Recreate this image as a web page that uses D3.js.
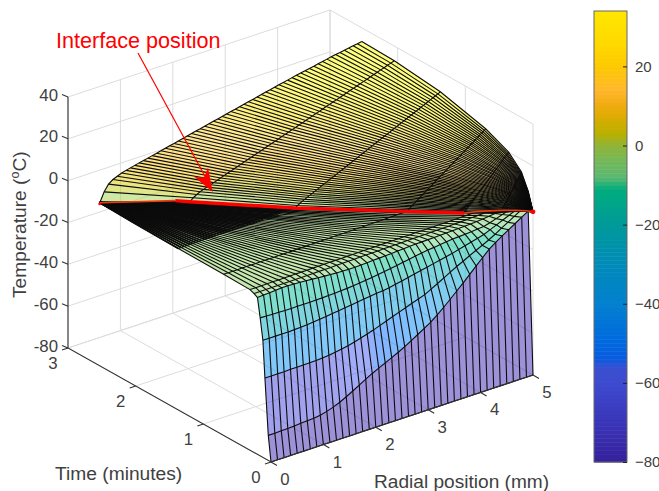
<!DOCTYPE html>
<html>
<head>
<meta charset="utf-8">
<style>
  html, body { margin: 0; background: #fff; }
  text { font-family: "Liberation Sans", Arial, sans-serif; fill: #404040; }
</style>
</head>
<body>
<svg id="chart" width="659" height="491"></svg>
<script src="https://cdn.jsdelivr.net/npm/d3@7"></script>
<script>
var rTicks = [0, 1, 2, 3, 4, 5];
var timeTicks = [0, 1, 2, 3];
var tempTicks = [-80, -60, -40, -20, 0, 20, 40];
var barTicks = [-80, -60, -40, -20, 0, 20];

// melting front
var frontTime = [2.53, 2.15, 2.05, 1.37, 0.7, 0.36, 0.31, 0.2, 0.16, 0.12, 0.09, 0.04, 0];
var frontR = [0, 0.95, 1.1, 2.23, 3.5, 4.15, 4.35, 4.65, 4.74, 4.82, 4.88, 4.96, 5];
var frontTemp = -2;

// liquid part: one row per time level, from the front out to r = 5
var warmTime = [2.53, 2.05, 1.37, 0.7, 0.36, 0.17, 0.07];
var warmFront = [0, 1.1, 2.23, 3.5, 4.15, 4.6, 4.88];
var warmTemps = [
  [-2,2.5,5.5,7,7.9,8.7,9.3,9.8,10.3,10.8,11.2,11.7,12.2,12.6,13.1,13.6,14.1,14.5,15,15.5,16,16.5,17,17.4,17.9,18.4,18.9,19.3,19.8,20.3,20.8,21.2,21.7,22.2,22.7,23.1,23.6,24.1,24.6,25,25.5,26,26.4,26.8,27.3,27.7,28.1,28.5,28.9,29.3,29.8,30.2,30.6,31,31.4,31.7,32.1,32.4,32.8,33.1,33.5],
  [-2,-0.6,0.4,1.2,1.8,2.3,2.9,3.4,4,4.5,5.1,5.7,6.2,6.8,7.3,7.9,8.5,9,9.6,10.1,10.7,11.2,11.8,12.4,12.9,13.5,14,14.6,15.2,15.7,16.3,16.8,17.4,17.9,18.5,19.1,19.6,20.2,20.7,21.3,21.9,22.4,23,23.5,24.1,24.6,25.2,25.8,26.3,26.9,27.4,28,28.5,29.1,29.7,30.2,30.8,31.3,31.9,32.4,33],
  [-2,-1.2,-0.5,0.1,0.6,1.2,1.7,2.2,2.8,3.3,3.8,4.4,4.9,5.4,6,6.5,7,7.5,8.1,8.6,9.1,9.7,10.2,10.7,11.3,11.8,12.3,12.9,13.4,13.9,14.5,15,15.5,16.1,16.6,17.1,17.7,18.2,18.7,19.2,19.8,20.3,20.8,21.4,21.9,22.4,23,23.5,24,24.6,25.1,25.6,26.2,26.7,27.2,27.8,28.3,28.8,29.4,29.9,30.5],
  [-2,-1.5,-1,-0.5,-0.1,0.4,0.8,1.3,1.7,2.2,2.6,3.1,3.5,4,4.4,4.9,5.3,5.7,6.2,6.6,7.1,7.5,8,8.4,8.9,9.3,9.8,10.2,10.6,11.1,11.5,12,12.4,12.9,13.3,13.8,14.2,14.7,15.1,15.5,16,16.4,16.9,17.3,17.8,18.2,18.7,19.1,19.6,20,20.4,20.9,21.3,21.8,22.2,22.7,23.1,23.6,24,24.5,25],
  [-2,-1.6,-1.2,-0.8,-0.4,-0.1,0.3,0.7,1,1.4,1.8,2.1,2.5,2.9,3.2,3.6,4,4.3,4.7,5,5.4,5.8,6.1,6.5,6.9,7.2,7.6,8,8.3,8.7,9,9.4,9.8,10.1,10.5,10.9,11.2,11.6,12,12.3,12.7,13,13.4,13.8,14.1,14.5,14.9,15.2,15.6,16,16.3,16.7,17,17.4,17.8,18.1,18.5,18.9,19.2,19.6,20],
  [-2,-1.7,-1.5,-1.2,-0.9,-0.7,-0.4,-0.1,0.1,0.4,0.7,0.9,1.2,1.5,1.7,2,2.3,2.5,2.8,3.1,3.3,3.6,3.9,4.1,4.4,4.7,4.9,5.2,5.5,5.7,6,6.3,6.5,6.8,7.1,7.3,7.6,7.9,8.1,8.4,8.7,8.9,9.2,9.5,9.7,10,10.3,10.5,10.8,11.1,11.3,11.6,11.9,12.1,12.4,12.7,12.9,13.2,13.5,13.7,14],
  [-2,-1.9,-1.7,-1.6,-1.4,-1.3,-1.2,-1,-0.9,-0.7,-0.6,-0.4,-0.3,-0.2,0,0.1,0.3,0.4,0.6,0.7,0.8,1,1.1,1.3,1.4,1.5,1.7,1.8,2,2.1,2.3,2.4,2.5,2.7,2.8,3,3.1,3.2,3.4,3.5,3.7,3.8,4,4.1,4.2,4.4,4.5,4.7,4.8,5,5.1,5.2,5.4,5.5,5.7,5.8,5.9,6.1,6.2,6.4,6.5]
];

// frozen part: one row per time level, from r = 0 out to the front
var coldTime = [0.04, 0.09, 0.12, 0.16, 0.2, 0.25, 0.31, 0.7, 1.37, 2.05];
var coldFront = [4.96, 4.88, 4.82, 4.74, 4.65, 4.5, 4.35, 3.5, 2.23, 1.1];
var coldTemps = [
  [-68,-68,-67.9,-67.8,-67.6,-67.4,-67.2,-67,-66.6,-65.8,-64.8,-63.5,-61.9,-60.2,-58.4,-56.6,-54.9,-53.4,-51.9,-50.4,-48.9,-47.2,-45.4,-43.5,-41.6,-39.6,-37.2,-34.6,-31.8,-28.9,-26,-23,-20,-17,-14,-11.8,-9.8,-7.8,-5.9,-3.9,-2],
  [-41.5,-41.5,-41.5,-41.5,-41.4,-41.4,-41.3,-41.3,-41.2,-41,-40.7,-40.3,-39.8,-39.2,-38.5,-37.6,-36.7,-35.7,-34.6,-33.5,-32.4,-31.3,-30.2,-29.1,-28.1,-27,-25.4,-23.7,-22,-20.3,-18.6,-17.1,-15.5,-14,-12.5,-11,-9.3,-7.4,-5.6,-3.8,-2],
  [-24,-24,-24,-24,-24,-23.9,-23.8,-23.6,-23.3,-22.9,-22.6,-22.2,-21.9,-21.5,-21.1,-20.7,-20.3,-20,-19.6,-19.3,-18.9,-18.3,-17.7,-17,-16.4,-15.7,-15.1,-14.4,-13.8,-13.1,-12.5,-11.7,-10.9,-10.1,-9.3,-8.5,-7.2,-5.9,-4.6,-3.3,-2],
  [-14,-14.1,-14.2,-14.3,-14.4,-14.4,-14.4,-14.4,-14.4,-14.3,-14.3,-14.2,-14.1,-13.9,-13.7,-13.4,-13.1,-12.8,-12.4,-12,-11.6,-11.1,-10.6,-10.1,-9.6,-9.1,-8.6,-8.2,-7.9,-7.5,-7.2,-6.9,-6.7,-6.5,-6.3,-6,-5.8,-5,-4,-3,-2],
  [-5,-4.8,-4.6,-4.4,-4.2,-4.2,-4.3,-4.5,-4.7,-4.9,-5.2,-5.4,-5.6,-5.8,-5.9,-6,-6,-5.9,-5.8,-5.6,-5.5,-5.3,-5.2,-5,-4.9,-4.7,-4.6,-4.5,-4.4,-4.3,-4.2,-4.1,-4,-3.9,-3.8,-3.7,-3.5,-3.2,-2.9,-2.5,-2],
  [-4,-4,-3.9,-3.9,-3.9,-3.9,-3.9,-3.8,-3.8,-3.8,-3.8,-3.7,-3.7,-3.7,-3.6,-3.6,-3.5,-3.5,-3.4,-3.4,-3.3,-3.3,-3.2,-3.2,-3.1,-3.1,-3,-3,-2.9,-2.9,-2.8,-2.8,-2.7,-2.7,-2.6,-2.5,-2.4,-2.3,-2.2,-2.1,-2],
  [-3.2,-3.2,-3.2,-3.1,-3.1,-3.1,-3.1,-3,-3,-3,-3,-2.9,-2.9,-2.9,-2.8,-2.8,-2.8,-2.7,-2.7,-2.7,-2.6,-2.6,-2.6,-2.5,-2.5,-2.5,-2.4,-2.4,-2.4,-2.3,-2.3,-2.3,-2.3,-2.2,-2.2,-2.2,-2.1,-2.1,-2.1,-2,-2],
  [-3,-3,-3,-3,-2.9,-2.9,-2.9,-2.9,-2.8,-2.8,-2.8,-2.8,-2.7,-2.7,-2.7,-2.7,-2.6,-2.6,-2.6,-2.6,-2.5,-2.5,-2.5,-2.5,-2.4,-2.4,-2.4,-2.4,-2.3,-2.3,-2.3,-2.3,-2.2,-2.2,-2.2,-2.2,-2.1,-2.1,-2.1,-2,-2],
  [-2.8,-2.8,-2.8,-2.8,-2.7,-2.7,-2.7,-2.7,-2.7,-2.6,-2.6,-2.6,-2.6,-2.6,-2.5,-2.5,-2.5,-2.5,-2.5,-2.4,-2.4,-2.4,-2.4,-2.4,-2.3,-2.3,-2.3,-2.3,-2.3,-2.2,-2.2,-2.2,-2.2,-2.2,-2.1,-2.1,-2.1,-2.1,-2.1,-2,-2],
  [-2.5,-2.5,-2.5,-2.5,-2.5,-2.5,-2.4,-2.4,-2.4,-2.4,-2.4,-2.4,-2.3,-2.3,-2.3,-2.3,-2.3,-2.3,-2.3,-2.2,-2.2,-2.2,-2.2,-2.2,-2.2,-2.2,-2.1,-2.1,-2.1,-2.1,-2.1,-2.1,-2.1,-2.1,-2,-2,-2,-2,-2,-2,-2]
];
var startTemp = -80;

// colour bar
var mapTemps = [-80, -70, -60, -56, -54, -50, -40, -30, -20, -11, -8, -5, 0, 3, 7, 10, 14, 20, 25, 34];
var mapColors = ["#34209a", "#3a35b8", "#3d4bd0", "#3a50d0", "#0a5ade", "#0068e0", "#0480d0", "#008bb8", "#009a9a", "#00ad7d", "#5bb870", "#6cb860", "#8fb53a", "#b9b000", "#d9ad00", "#f0aa10", "#ffb62a", "#fec800", "#ffd800", "#ffe600"];

var svg = d3.select("#chart");

var color = d3.scaleLinear().domain(mapTemps).range(mapColors);

// oblique box: each axis has its own screen offset
var xFromR = d3.scaleLinear().domain([0, 5]).range([271, 533]);
var yFromR = d3.scaleLinear().domain([0, 5]).range([462, 375]);
var xFromTime = d3.scaleLinear().domain([0, 3]).range([0, -203]);
var yFromTime = d3.scaleLinear().domain([0, 3]).range([0, -114]);
var yFromTemp = d3.scaleLinear().domain([-80, 40]).range([0, -251]);

function project(r, time, temp) {
  return [xFromR(r) + xFromTime(time), yFromR(r) + yFromTime(time) + yFromTemp(temp)];
}

var pathLine = d3.line();

// back walls and floor
var grid = svg.append("g")
  .attr("fill", "none")
  .attr("stroke", "#dcdcdc")
  .attr("stroke-width", 1);

tempTicks.forEach(function(v) {
  grid.append("path").attr("d", pathLine([project(0, 3, v), project(5, 3, v), project(5, 0, v)]));
});
rTicks.forEach(function(v) {
  grid.append("path").attr("d", pathLine([project(v, 0, -80), project(v, 3, -80), project(v, 3, 40)]));
});
timeTicks.forEach(function(v) {
  grid.append("path").attr("d", pathLine([project(0, v, -80), project(5, v, -80), project(5, v, 40)]));
});

// build the two meshes
var warmNodes = warmTime.map(function(time, j) {
  return warmTemps[j].map(function(temp, k) {
    var r = warmFront[j] + (5 - warmFront[j]) * k / 60;
    return { r: r, time: time, temp: temp };
  });
});
warmNodes.push(d3.range(61).map(function() {
  return { r: 5, time: 0, temp: frontTemp };
}));

var coldNodes = [d3.range(41).map(function(k) {
  return { r: 5 * k / 40, time: 0, temp: startTemp };
})];
coldTime.forEach(function(time, j) {
  coldNodes.push(coldTemps[j].map(function(temp, k) {
    return { r: coldFront[j] * k / 40, time: time, temp: temp };
  }));
});
coldNodes.push(d3.range(41).map(function() {
  return { r: 0, time: 2.53, temp: frontTemp };
}));

function xy(n) { return project(n.r, n.time, n.temp); }

var cells = [];
d3.range(warmNodes.length - 1).forEach(function(j) {
  d3.range(60).forEach(function(k) {
    var q = [warmNodes[j][k], warmNodes[j][k + 1], warmNodes[j + 1][k + 1], warmNodes[j + 1][k]];
    cells.push({ q: q, temp: d3.mean(q, function(n) { return n.temp; }) });
  });
});
d3.range(coldNodes.length - 1).forEach(function(j) {
  d3.range(40).forEach(function(k) {
    var q = [coldNodes[j][k], coldNodes[j][k + 1], coldNodes[j + 1][k + 1], coldNodes[j + 1][k]];
    cells.push({ q: q, temp: q[0].temp });
  });
});
cells.forEach(function(c) {
  c.depth = d3.mean(c.q, function(n) { return n.r * 87 + n.time * 114; });
});
cells.sort(function(a, b) { return b.depth - a.depth; });

svg.append("g")
  .selectAll("path")
  .data(cells)
  .enter().append("path")
    .attr("d", function(d) { return pathLine(d.q.map(xy)) + "Z"; })
    .attr("fill", function(d) { return d3.color(color(d.temp)).brighter(0.4); })
    .attr("fill-opacity", 0.5);

var mesh = svg.append("g")
  .attr("fill", "none")
  .attr("stroke", "#0c0c0c")
  .attr("stroke-width", 1.1);

warmNodes.forEach(function(row) {
  mesh.append("path").attr("d", pathLine(row.map(xy)));
});
d3.range(61).forEach(function(k) {
  mesh.append("path").attr("d", pathLine(warmNodes.map(function(row) { return xy(row[k]); })));
});
coldNodes.forEach(function(row) {
  mesh.append("path").attr("d", pathLine(row.map(xy)));
});
d3.range(41).forEach(function(k) {
  mesh.append("path").attr("d", pathLine(coldNodes.map(function(row) { return xy(row[k]); })));
  // the fan towards the far tip reads nearly solid black in the figure
  mesh.append("path").attr("stroke-width", 1.7)
    .attr("d", pathLine(coldNodes.slice(9).map(function(row) { return xy(row[k]); })));
});

// interface curve, thick only where it sits on top of the surface
var frontPts = frontTime.map(function(time, i) { return project(frontR[i], time, frontTemp); });
svg.append("path")
  .attr("d", pathLine(frontPts.slice(0, 2)))
  .attr("fill", "none").attr("stroke", "#ee3a10").attr("stroke-width", 1.6);
svg.append("path")
  .attr("d", pathLine(frontPts.slice(5)))
  .attr("fill", "none").attr("stroke", "#ee3a10").attr("stroke-width", 1.6);
svg.append("path")
  .attr("d", pathLine(frontPts.slice(1, 6)))
  .attr("fill", "none").attr("stroke", "#ff0000").attr("stroke-width", 3.4);
svg.append("circle").attr("cx", frontPts[0][0]).attr("cy", frontPts[0][1] + 1).attr("r", 1.5).attr("fill", "#ff0000");
svg.append("circle").attr("cx", frontPts[frontPts.length - 1][0]).attr("cy", frontPts[frontPts.length - 1][1]).attr("r", 2.4).attr("fill", "#ff0000");

// axes
var axes = svg.append("g").attr("fill", "none").attr("stroke", "#333").attr("stroke-width", 1.1);
axes.append("path").attr("d", pathLine([project(0, 3, 40), project(0, 3, -80), project(0, 0, -80), project(5, 0, -80)]));

tempTicks.forEach(function(v) {
  var p = project(0, 3, v);
  axes.append("path").attr("d", pathLine([p, [p[0] - 6, p[1] - 2.5]]));
  svg.append("text").attr("x", p[0] - 10).attr("y", p[1] + 3.5).attr("text-anchor", "end")
    .attr("font-size", 16.8).text(v);
});
timeTicks.forEach(function(v) {
  var p = project(0, v, -80);
  axes.append("path").attr("d", pathLine([p, [p[0] - 6, p[1] + 2]]));
  svg.append("text").attr("x", p[0] - 15).attr("y", p[1] + 21).attr("text-anchor", "middle")
    .attr("font-size", 16.8).text(v);
});
rTicks.forEach(function(v) {
  var p = project(v, 0, -80);
  axes.append("path").attr("d", pathLine([p, [p[0] + 6, p[1] + 3.5]]));
  svg.append("text").attr("x", p[0] + 14).attr("y", p[1] + 23).attr("text-anchor", "middle")
    .attr("font-size", 16.8).text(v);
});

svg.append("text").attr("x", 55).attr("y", 480).attr("font-size", 19.2).text("Time (minutes)");
svg.append("text").attr("x", 374).attr("y", 488).attr("font-size", 19.1).text("Radial position (mm)");

var yTitle = svg.append("text")
  .attr("transform", "translate(26,298) rotate(-90)")
  .attr("font-size", 19.2);
yTitle.append("tspan").text("Temperature (");
yTitle.append("tspan").attr("dy", -7).attr("font-size", 12.5).text("o");
yTitle.append("tspan").attr("dy", 7).text("C)");

// annotation
svg.append("text").attr("x", 56).attr("y", 48).attr("font-size", 21.6)
  .style("fill", "#ff0000").text("Interface position");
svg.append("line")
  .attr("x1", 138).attr("y1", 53).attr("x2", 207).attr("y2", 180)
  .attr("stroke", "#ff0000").attr("stroke-width", 1.2);
svg.append("path")
  .attr("d", "M212.7,192L194.5,177L204,177.5L208,167.5Z")
  .attr("fill", "#ff0000");

// colour bar
var barY = d3.scaleLinear().domain([-80, 34]).range([462, 11]);
var bar = svg.append("g");
bar.selectAll("rect")
  .data(d3.range(-80, 34, 1))
  .enter().append("rect")
    .attr("x", 594)
    .attr("width", 33)
    .attr("y", function(d) { return barY(d + 1); })
    .attr("height", function(d) { return barY(d) - barY(d + 1) + 0.5; })
    .attr("fill", function(d) { return color(d + 0.5); });
bar.append("rect")
  .attr("x", 594).attr("y", 11).attr("width", 33).attr("height", 451)
  .attr("fill", "none").attr("stroke", "#666").attr("stroke-width", 1);

var barAxis = d3.axisRight(barY).tickValues(barTicks).tickSize(-4).tickPadding(8);
var barG = svg.append("g").attr("transform", "translate(627,0)").call(barAxis);
barG.select(".domain").remove();
barG.selectAll("line").attr("stroke", "#222");
barG.selectAll("text").attr("font-size", 15).attr("font-family", '"Liberation Sans", Arial, sans-serif').style("fill", "#404040");
</script>
</body>
</html>
